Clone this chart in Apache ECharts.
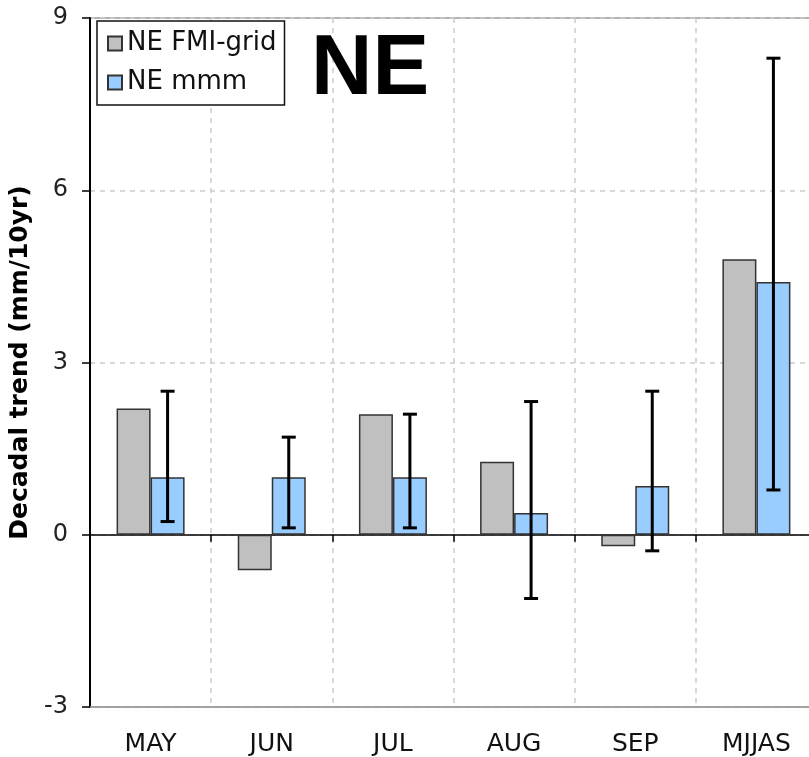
<!DOCTYPE html>
<html>
<head>
<meta charset="utf-8">
<script src="https://cdn.jsdelivr.net/npm/echarts@6/dist/echarts.min.js"></script>
<style>html,body{margin:0;padding:0;background:#fff;overflow:hidden;}#c{width:817px;height:757px;}</style>
</head>
<body>
<div id="c"></div>
<script>
const categories = ['MAY', 'JUN', 'JUL', 'AUG', 'SEP', 'MJJAS'];
const fmiGrid = [2.2, -0.62, 2.1, 1.27, -0.2, 4.8];
const mmm = [1.0, 1.0, 1.0, 0.38, 0.85, 4.4];
const mmmLow = [0.23, 0.12, 0.12, -1.11, -0.28, 0.78];
const mmmHigh = [2.5, 1.7, 2.1, 2.32, 2.5, 8.3];
const yTicks = [-3, 0, 3, 6, 9];

const chart = echarts.init(document.getElementById('c'), null, {renderer: 'canvas'});
const BW = 34;
const font = 'DejaVu Sans';
const errData = categories.map((c, i) => [i, mmmLow[i], mmmHigh[i]]);

chart.setOption({
  animation: false,
  backgroundColor: '#fff',
  grid: {left: 90, top: 18, right: 0, bottom: 49, show: true, borderColor: '#999', borderWidth: 1.5, backgroundColor: 'transparent'},
  legend: {
    data: ['NE FMI-grid', 'NE mmm'],
    orient: 'vertical', left: 97, top: 21,
    padding: [9, 8, 9, 10],
    itemWidth: 14, itemHeight: 14, itemGap: 12,
    backgroundColor: '#fff', borderColor: '#111', borderWidth: 1.5,
    icon: 'rect',
    textStyle: {fontFamily: font, fontSize: 26, color: '#111', lineHeight: 27}
  },
  graphic: [{
    type: 'text', left: 311, top: 28,
    style: {text: 'NE', font: 'bold 85px "Liberation Sans"', fill: '#000'},
    z: 100
  }],
  xAxis: [{
    type: 'category', data: categories, position: 'bottom',
    axisLine: {onZero: false, lineStyle: {color: '#999', width: 1.5}},
    axisTick: {show: false},
    axisLabel: {fontFamily: font, fontSize: 25, color: '#111', margin: 25},
    splitLine: {show: true, lineStyle: {color: '#ccc', type: [5, 5], width: 1.5}}
  }, {
    type: 'category', data: categories, position: 'top',
    axisLine: {onZero: true, lineStyle: {color: '#000', width: 1.5}},
    axisTick: {show: true, inside: true, length: 7, lineStyle: {color: '#000', width: 1.5}},
    axisLabel: {show: false},
    splitLine: {show: false}
  }],
  yAxis: {
    type: 'value', min: -3, max: 9, interval: 3,
    name: 'Decadal trend (mm/10yr)', nameLocation: 'middle', nameGap: 54,
    nameTextStyle: {fontFamily: font, fontSize: 25, fontWeight: 'bold', color: '#000'},
    axisLine: {show: true, onZero: false, lineStyle: {color: '#000', width: 2}},
    axisTick: {show: true, length: 8, lineStyle: {color: '#000', width: 1.5}},
    axisLabel: {fontFamily: font, fontSize: 24, color: '#222', margin: 22},
    splitLine: {show: true, lineStyle: {color: '#ccc', type: [5, 5], width: 1.5}}
  },
  series: [{
    name: 'NE FMI-grid', type: 'bar', data: fmiGrid, barWidth: BW, barGap: '0%',
    itemStyle: {color: '#C0C0C0', borderColor: '#333', borderWidth: 1.5}
  }, {
    name: 'NE mmm', type: 'bar', data: mmm, barWidth: BW, barGap: '0%',
    itemStyle: {color: '#99CCFF', borderColor: '#333', borderWidth: 1.5}
  }, {
    name: 'err', type: 'custom', data: errData, z: 10,
    encode: {x: 0, y: [1, 2]},
    renderItem: function (params, api) {
      const i = api.value(0);
      const x = api.coord([i, 0])[0] + BW / 2;
      const yl = api.coord([i, api.value(1)])[1];
      const yh = api.coord([i, api.value(2)])[1];
      const hw = 7;
      const st = {stroke: '#000', lineWidth: 3};
      return {type: 'group', children: [
        {type: 'line', shape: {x1: x, y1: yl, x2: x, y2: yh}, style: st},
        {type: 'line', shape: {x1: x - hw, y1: yl, x2: x + hw, y2: yl}, style: st},
        {type: 'line', shape: {x1: x - hw, y1: yh, x2: x + hw, y2: yh}, style: st}
      ]};
    }
  }]
});
</script>
</body>
</html>
